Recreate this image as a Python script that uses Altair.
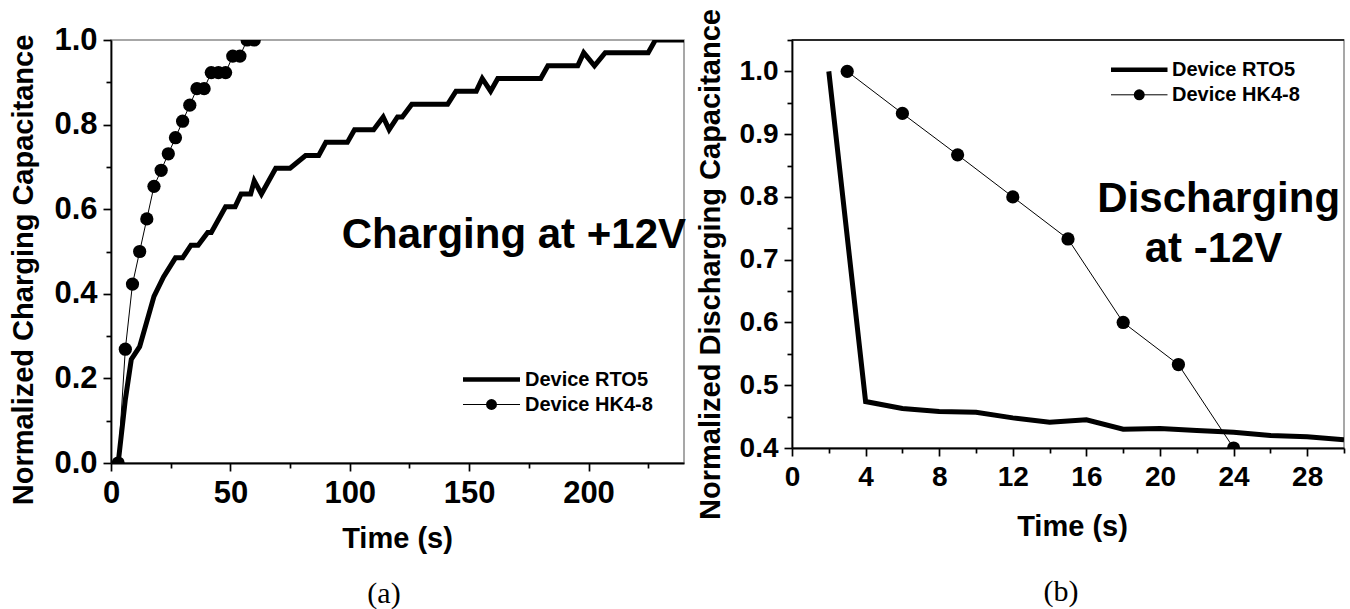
import altair as alt
import pandas as pd

# ---------------- data ----------------
# Panel (a): charging at +12 V
a_rto5_t = [3, 6, 8.5, 12, 18, 22, 27, 30, 33.5, 36.5, 40.5, 42, 48, 52, 54.5, 58.5, 60, 63,
            69, 75, 81.5, 87, 90, 99, 102, 110, 114, 116.5, 120, 122, 126, 141, 144.5, 153,
            155.5, 159, 162, 180, 183, 195.5, 198, 202.5, 207, 225, 228, 240]
a_rto5_v = [0.0, 0.15, 0.245, 0.275, 0.394, 0.44, 0.485, 0.485, 0.515, 0.515, 0.545, 0.545,
            0.606, 0.606, 0.636, 0.636, 0.667, 0.636, 0.697, 0.697, 0.727, 0.727, 0.758, 0.758,
            0.788, 0.788, 0.818, 0.788, 0.818, 0.818, 0.848, 0.848, 0.879, 0.879, 0.909, 0.879,
            0.909, 0.909, 0.939, 0.939, 0.970, 0.939, 0.970, 0.970, 1.0, 1.0]
a_hk_t = [3, 6, 9, 12, 15, 18, 21, 24, 27, 30, 33, 36, 39, 42, 45, 48, 51, 54, 57, 60]
a_hk_v = [0.0, 0.269, 0.423, 0.5, 0.577, 0.654, 0.692, 0.731, 0.769, 0.808, 0.846, 0.885,
          0.885, 0.923, 0.923, 0.923, 0.962, 0.962, 1.0, 1.0]

# Panel (b): discharging at -12 V
b_rto5_t = [2, 4, 6, 8, 10, 12, 14, 16, 18, 20, 22, 24, 26, 28, 30]
b_rto5_v = [1.0, 0.474, 0.463, 0.458, 0.457, 0.448, 0.441, 0.445, 0.430, 0.431, 0.428, 0.425,
            0.420, 0.418, 0.413]
b_hk_t = [3, 6, 9, 12, 15, 18, 21, 24]
b_hk_v = [1.0, 0.933, 0.867, 0.8, 0.733, 0.6, 0.533, 0.4]

series_names = ["Device RTO5", "Device HK4-8"]
a_xticks = [0, 25, 50, 75, 100, 125, 150, 175, 200, 225]
a_yticks = [0.0, 0.1, 0.2, 0.3, 0.4, 0.5, 0.6, 0.7, 0.8, 0.9, 1.0]
b_xticks = [0, 2, 4, 6, 8, 10, 12, 14, 16, 18, 20, 22, 24, 26, 28, 30]
b_yticks = [0.4, 0.45, 0.5, 0.55, 0.6, 0.65, 0.7, 0.75, 0.8, 0.85, 0.9, 0.95, 1.0, 1.05]

FONT = "Liberation Sans"
SERIF = "Liberation Serif"
BLACK = "#000000"
FRAME = "#8a8a8a"


def make_axis(values, major_test, fmt, title, tx, ty, label_size=28, pad=6):
    return alt.Axis(
        values=values,
        labelExpr=f"({major_test}) ? format(datum.value, '{fmt}') : ''",
        tickSize={"condition": {"test": major_test, "value": 8}, "value": 5},
        tickColor=BLACK, tickWidth=1.7,
        domainColor=BLACK, domainWidth=1.8,
        labelFont=FONT, labelFontWeight="bold", labelFontSize=label_size, labelColor=BLACK,
        labelPadding=pad, labelOverlap=False, labelFlush=False,
        grid=False,
        title=title, titleFont=FONT, titleFontWeight="bold", titleFontSize=29, titleColor=BLACK,
        titleX=tx, titleY=ty, titleAlign="center", titleBaseline="middle",
    )


def panel(rt, rv, ht, hv, xdom, ydom, xaxis, yaxis, w, h, extras):
    rto = pd.DataFrame({"t": rt, "v": rv})
    hk = pd.DataFrame({"t": ht, "v": hv})
    xs = alt.Scale(domain=xdom, nice=False, zero=False)
    ys = alt.Scale(domain=ydom, nice=False, zero=False)
    base_rto = alt.Chart(rto).encode(
        x=alt.X("t:Q", scale=xs, axis=xaxis),
        y=alt.Y("v:Q", scale=ys, axis=yaxis),
    )
    base_hk = alt.Chart(hk).encode(
        x=alt.X("t:Q", scale=xs, axis=xaxis),
        y=alt.Y("v:Q", scale=ys, axis=yaxis),
    )
    l_rto = base_rto.mark_line(color=BLACK, strokeWidth=5, clip=True, strokeJoin="miter")
    l_hk = base_hk.mark_line(color=BLACK, strokeWidth=1, clip=True)
    p_hk = base_hk.mark_point(filled=True, color=BLACK, size=175, opacity=1, clip=True)
    return alt.layer(l_rto, l_hk, p_hk, *extras).properties(width=w, height=h)


def txt(s, **kw):
    return alt.Chart(pd.DataFrame({"s": [s]})).mark_text(**kw).encode(text="s:N")


def legend(x0, x1, xt, y1, y2, dot_size):
    one = pd.DataFrame({"s": [series_names[0]]})
    two = pd.DataFrame({"s": [series_names[1]]})
    r1 = alt.Chart(one).mark_rule(color=BLACK, strokeWidth=4.5).encode(
        x=alt.value(x0), x2=alt.value(x1), y=alt.value(y1))
    r2 = alt.Chart(two).mark_rule(color=BLACK, strokeWidth=1).encode(
        x=alt.value(x0), x2=alt.value(x1), y=alt.value(y2))
    d2 = alt.Chart(two).mark_point(filled=True, color=BLACK, size=dot_size, opacity=1).encode(
        x=alt.value((x0 + x1) / 2), y=alt.value(y2))
    t1 = alt.Chart(one).mark_text(align="left", baseline="middle", font=FONT, fontWeight="bold",
                                  fontSize=20, color=BLACK).encode(
        x=alt.value(xt), y=alt.value(y1), text="s:N")
    t2 = alt.Chart(two).mark_text(align="left", baseline="middle", font=FONT, fontWeight="bold",
                                  fontSize=20, color=BLACK).encode(
        x=alt.value(xt), y=alt.value(y2), text="s:N")
    return [r1, r2, d2, t1, t2]


WA, HA = 573, 423
WB, HB = 552, 408

# ---- panel (a)
ax_a_x = make_axis(a_xticks, "datum.value % 50 == 0", "d", "Time (s)", 286, 75, 31, 7)
ax_a_y = make_axis(a_yticks, "round(datum.value * 10) % 2 == 0", ".1f",
                   "Normalized Charging Capacitance", -87.5, 229.5, 31, 6)
extras_a = legend(352, 409, 414, 339.5, 364.5, 120) + [
    txt("Charging at +12V", align="right", baseline="alphabetic", font=FONT, fontWeight="bold",
        fontSize=42, color=BLACK).encode(x=alt.value(575), y=alt.value(208)),
    txt("(a)", align="center", baseline="middle", font=SERIF, fontSize=30,
        color=BLACK).encode(x=alt.value(273), y=alt.value(553.5)),
]
chart_a = panel(a_rto5_t, a_rto5_v, a_hk_t, a_hk_v, [0, 240], [0, 1.0], ax_a_x, ax_a_y,
                WA, HA, extras_a)

# ---- panel (b)
ax_b_x = make_axis(b_xticks, "datum.value % 4 == 0", "d", "Time (s)", 280, 78.5, 28, 7)
ax_b_y = make_axis(b_yticks, "round(datum.value * 20) % 2 == 0", ".1f",
                   "Normalized Discharging Capacitance", -82, 224, 28, 6)
top_rule = alt.Chart(pd.DataFrame({"s": ["top"]})).mark_rule(color=BLACK, strokeWidth=1.5).encode(
    x=alt.value(0), x2=alt.value(WB), y=alt.value(0))
extras_b = [top_rule] + legend(319, 375.5, 380, 29.8, 54.8, 120) + [
    txt("Discharging", align="center", baseline="alphabetic", font=FONT, fontWeight="bold",
        fontSize=42, color=BLACK).encode(x=alt.value(426.7), y=alt.value(172.2)),
    txt("at -12V", align="center", baseline="alphabetic", font=FONT, fontWeight="bold",
        fontSize=42, color=BLACK).encode(x=alt.value(421.5), y=alt.value(222.2)),
    txt("(b)", align="center", baseline="middle", font=SERIF, fontSize=30,
        color=BLACK).encode(x=alt.value(269), y=alt.value(551.5)),
]
chart_b = panel(b_rto5_t, b_rto5_v, b_hk_t, b_hk_v, [0, 30], [0.4, 1.05], ax_b_x, ax_b_y,
                WB, HB, extras_b)

chart = alt.hconcat(chart_a, chart_b, spacing=108, bounds="flush").properties(
    padding={"left": 8, "top": 7, "right": 4, "bottom": 2},
    background="white",
).configure_view(stroke=FRAME, strokeWidth=1.5)

chart.save("out.html", embed_options={"renderer": "svg", "actions": False})
